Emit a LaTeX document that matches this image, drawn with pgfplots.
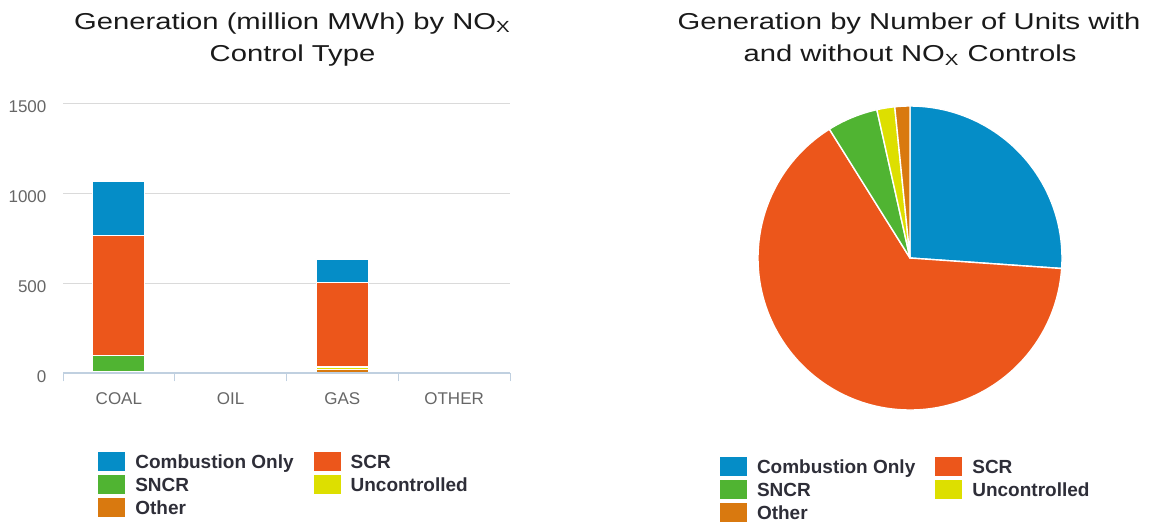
\documentclass[border=0pt]{standalone}
\usepackage{fontspec}
\setmainfont{Liberation Sans}
\newfontfamily\titlefont[FakeStretch=1.27]{Liberation Sans}
\usepackage{pgfplots}
\usepackage{pgfplotstable}
\pgfplotsset{compat=1.18}

\definecolor{cblue}{HTML}{058DC7}
\definecolor{cred}{HTML}{EC561B}
\definecolor{cgreen}{HTML}{50B432}
\definecolor{cyellow}{HTML}{DDDF00}
\definecolor{corange}{HTML}{D9790F}
\definecolor{caxis}{HTML}{C0D0E0}
\definecolor{cgrid}{HTML}{DADADA}
\definecolor{ctick}{HTML}{666666}
\definecolor{clegend}{HTML}{2E2E38}
\definecolor{ctitle}{HTML}{1A1A1A}

% generation (million MWh), stacked bottom to top
\pgfplotstableread{
x other uncontrolled sncr scr combustion
0 4  4  93 662 305
1 0  3  0  0   0
2 22 8  8  468 129
3 0  0  0  0   0
}\bardata

% share of units (%), clockwise from 12 o'clock
\pgfplotstableread{
share col
26.1 cblue
65.0 cred
5.4  cgreen
1.9  cyellow
1.6  corange
}\piedata

\pgfplotsset{
  sq/.style={legend image code/.code={\fill[##1,draw=none] (0pt,-4.75pt) rectangle (13.5pt,4.75pt);}},
  boxlegend/.style={
    legend columns=2, legend cell align=left,
    legend style={draw=none, fill=none, inner sep=0pt, outer sep=0pt,
      font=\bfseries\fontsize{9.5}{11}\selectfont, text=clegend,
      nodes={inner sep=0pt, text height=8.15pt, text depth=1.35pt},
      row sep=2pt,
      /tikz/every odd column/.append style={column sep=5pt},
      /tikz/every even column/.append style={column sep=10pt}},
  },
}

\begin{document}
\begin{tikzpicture}
\useasboundingbox (0,0) rectangle (574.5pt,260.5pt);

\begin{axis}[
  name=bars,
  at={(31.5pt,73.85pt)}, anchor=south west,
  scale only axis, width=223.5pt, height=135pt,
  ybar stacked, bar width=26pt,
  xmin=-0.5, xmax=3.5, ymin=0, ymax=1500,
  xtick={0,1,2,3}, xticklabels={COAL,OIL,GAS,OTHER},
  minor xtick={-0.5,0.5,1.5,2.5,3.5},
  ytick={0,500,1000,1500},
  axis x line*=bottom, axis y line*=left,
  x axis line style={draw=caxis, line width=1pt},
  y axis line style={draw=none},
  ytick style={draw=none},
  xtick style={draw=caxis, line width=0.5pt},
  tick align=outside, major tick length=0pt, minor tick length=4pt,
  ymajorgrids, grid style={draw=cgrid, line width=0.6pt},
  /pgf/number format/1000 sep={},
  /pgf/number format/assume math mode=true,
  tick label style={font=\fontsize{8.5}{10}\selectfont, text=ctick},
  yticklabel style={anchor=east, inner sep=0pt, xshift=-8.1pt, yshift=-1.5pt},
  xticklabel style={anchor=base, inner sep=0pt, yshift=-15.8pt},
  boxlegend,
  legend style={at={(0.079,-0.2904)}, anchor=north west},
]
\addplot[forget plot, fill=corange, draw=white, line width=0.5pt] table[x=x, y=other] {\bardata};
\addplot[forget plot, fill=cyellow, draw=white, line width=0.5pt] table[x=x, y=uncontrolled] {\bardata};
\addplot[forget plot, fill=cgreen, draw=white, line width=0.5pt] table[x=x, y=sncr] {\bardata};
\addplot[forget plot, fill=cred, draw=white, line width=0.5pt] table[x=x, y=scr] {\bardata};
\addplot[forget plot, fill=cblue, draw=white, line width=0.5pt] table[x=x, y=combustion] {\bardata};
\addlegendimage{sq, fill=cblue}\addlegendentry{Combustion Only}
\addlegendimage{sq, fill=cred}\addlegendentry{SCR}
\addlegendimage{sq, fill=cgreen}\addlegendentry{SNCR}
\addlegendimage{sq, fill=cyellow}\addlegendentry{Uncontrolled}
\addlegendimage{sq, fill=corange}\addlegendentry{Other}
\end{axis}
% baseline redrawn over the bars' white edges
\draw[caxis, line width=1pt] (bars.south west) -- (bars.south east);

\begin{axis}[
  at={(455pt,131.5pt)}, anchor=center,
  scale only axis, width=152pt, height=152pt,
  xmin=-1, xmax=1, ymin=-1, ymax=1,
  hide axis, clip=false,
  boxlegend,
  legend style={at={(-0.125,-0.1536)}, anchor=north west},
]
\pgfplotsextra{
  \gdef\angA{90}
  \foreach \i in {0,...,4}{
    \pgfplotstablegetelem{\i}{share}\of\piedata \let\sh\pgfplotsretval
    \pgfplotstablegetelem{\i}{col}\of\piedata \let\cc\pgfplotsretval
    \pgfmathsetmacro\angB{\angA-3.6*\sh}
    \fill[\cc, draw=white, line width=0.7pt, line join=round]
      (axis cs:0,0) -- ([shift={(\angA:76pt)}]axis cs:0,0)
      arc[start angle=\angA, end angle=\angB, radius=76pt] -- cycle;
    \xdef\angA{\angB}
  }
}
\addlegendimage{sq, fill=cblue}\addlegendentry{Combustion Only}
\addlegendimage{sq, fill=cred}\addlegendentry{SCR}
\addlegendimage{sq, fill=cgreen}\addlegendentry{SNCR}
\addlegendimage{sq, fill=cyellow}\addlegendentry{Uncontrolled}
\addlegendimage{sq, fill=corange}\addlegendentry{Other}
\end{axis}

\begin{scope}[text=ctitle, font=\titlefont\fontsize{11.5}{14}\selectfont]
\node[anchor=base, inner sep=0pt] at (146.25pt,245.85pt) {Generation (million MWh) by NO\textsubscript{X}};
\node[anchor=base, inner sep=0pt] at (146.25pt,229.65pt) {Control Type};
\node[anchor=base, inner sep=0pt] at (454.5pt,245.85pt) {Generation by Number of Units with};
\node[anchor=base, inner sep=0pt] at (455pt,229.65pt) {and without NO\textsubscript{X} Controls};
\end{scope}
\end{tikzpicture}
\end{document}
